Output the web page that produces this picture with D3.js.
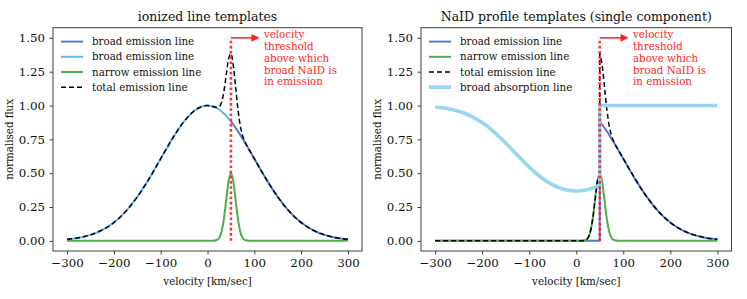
<!DOCTYPE html>
<html>
<head>
<meta charset="utf-8">
<script src="https://cdn.jsdelivr.net/npm/d3@7"></script>
<style>
  body { margin: 0; background: #fff; }
  svg { display: block; font-family: "DejaVu Serif", serif; }
</style>
</head>
<body>
<div id="chart"></div>
<script>
// velocity grid in km/s, shared by every template
const velocity = [-300, -275, -250, -225, -200, -175, -150, -125, -100, -75, -50, -25, 0,
  10, 20, 25, 30, 35, 40, 45, 50, 55, 60, 65, 70, 75, 80, 90,
  100, 125, 150, 175, 200, 225, 250, 275, 300];

const broadEmission = [0.011, 0.023, 0.044, 0.080, 0.135, 0.216, 0.325, 0.458, 0.607, 0.755, 0.883, 0.969, 1.000,
  0.995, 0.980, 0.969, 0.956, 0.941, 0.923, 0.904, 0.883, 0.860, 0.835, 0.810, 0.783, 0.755, 0.726, 0.667,
  0.607, 0.458, 0.325, 0.216, 0.135, 0.080, 0.044, 0.023, 0.011];

const narrowEmission = [0, 0, 0, 0, 0, 0, 0, 0, 0, 0, 0, 0, 0,
  0, 0.006, 0.022, 0.068, 0.162, 0.303, 0.441, 0.500, 0.441, 0.303, 0.162, 0.068, 0.022, 0.006, 0,
  0, 0, 0, 0, 0, 0, 0, 0, 0];

const totalEmission = [0.011, 0.023, 0.044, 0.080, 0.135, 0.216, 0.325, 0.458, 0.607, 0.755, 0.883, 0.969, 1.000,
  0.995, 0.986, 0.991, 1.024, 1.103, 1.226, 1.345, 1.383, 1.301, 1.138, 0.972, 0.851, 0.777, 0.732, 0.667,
  0.607, 0.458, 0.325, 0.216, 0.135, 0.080, 0.044, 0.023, 0.011];

// broad absorption, read up to the threshold (v <= 50); flat at 1 above it
const broadAbsorption = [0.989, 0.978, 0.957, 0.924, 0.874, 0.806, 0.723, 0.633, 0.545, 0.470, 0.414, 0.379, 0.368,
  0.370, 0.375, 0.379, 0.384, 0.390, 0.397, 0.405, 0.414];
const absorptionAbove = 1.0;

const velThreshold = 50;
const thresholdTop = 1.5;
const xTicks = [-300, -200, -100, 0, 100, 200, 300];
const yTicks = [0, 0.25, 0.5, 0.75, 1.0, 1.25, 1.5];
const noteLines = ["velocity", "threshold", "above which", "broad NaID is", "in emission"];
const panelTitles = ["ionized line templates", "NaID profile templates (single component)"];

const colors = {
  dark: "#5777d6",
  light: "#5dbbee",
  green: "#4caf4c",
  absorb: "#98d5f5",
  red: "#ff1f1f",
  frame: "#3c3c3c"
};

const W = 747, H = 299;
const svg = d3.select("#chart").append("svg").attr("width", W).attr("height", H);

// turn value arrays into [v, flux] points
function pts(vals) {
  return vals.map((f, i) => [velocity[i], f]);
}

// draws a smooth line but allows vertical jumps (repeated x)
function jumpPath(points, line) {
  let runs = [[points[0]]];
  for (let i = 1; i < points.length; i++) {
    if (points[i][0] === points[i - 1][0]) runs.push([points[i]]);
    else runs[runs.length - 1].push(points[i]);
  }
  return runs.map((r, i) => {
    let s = line(r).replace(/Z$/, "");
    return i ? "L" + s.slice(1) : s;
  }).join("");
}

class TemplatePanel {
  constructor(left, right, title, series, legend, yLabelX) {
    this.left = left;
    this.right = right;
    this.title = title;
    this.series = series;
    this.legend = legend;
    this.yLabelX = yLabelX;
    this.initVis();
  }

  initVis() {
    let vis = this;
    vis.top = 27.7;
    vis.bottom = 251;

    vis.x = d3.scaleLinear().domain([-330, 330]).range([vis.left, vis.right]);
    vis.y = d3.scaleLinear().domain([-0.075, 1.575]).range([vis.bottom, vis.top]);

    vis.g = svg.append("g");

    vis.line = d3.line()
      .x(d => vis.x(d[0]))
      .y(d => vis.y(d[1]))
      .curve(d3.curveMonotoneX);

    vis.g.append("defs").append("clipPath").attr("id", "clip" + vis.left)
      .append("rect")
      .attr("x", vis.left).attr("y", vis.top)
      .attr("width", vis.right - vis.left).attr("height", vis.bottom - vis.top);

    let plot = vis.g.append("g").attr("clip-path", `url(#clip${vis.left})`);

    vis.series.forEach(s => {
      plot.append("path")
        .attr("d", jumpPath(s.points, vis.line))
        .attr("fill", "none")
        .attr("stroke", s.color)
        .attr("stroke-width", s.width)
        .attr("stroke-dasharray", s.dash || null)
        .attr("stroke-linejoin", "round");
    });

    // threshold marker
    plot.append("line")
      .attr("x1", vis.x(velThreshold)).attr("x2", vis.x(velThreshold))
      .attr("y1", vis.y(0)).attr("y2", vis.y(thresholdTop))
      .attr("stroke", colors.red)
      .attr("stroke-width", 2.6)
      .attr("stroke-dasharray", "2.6,2.6")
      .attr("opacity", 0.9);

    let ay = vis.y(thresholdTop);
    let tip = vis.x(111);
    vis.g.append("line")
      .attr("x1", vis.x(velThreshold)).attr("x2", tip - 6)
      .attr("y1", ay).attr("y2", ay)
      .attr("stroke", colors.red).attr("stroke-width", 1.5);
    vis.g.append("path")
      .attr("d", `M${tip},${ay} L${tip - 8},${ay - 3.8} L${tip - 8},${ay + 3.8} Z`)
      .attr("fill", colors.red);

    let note = vis.g.append("text")
      .attr("fill", colors.red)
      .style("font-size", "10.3px");
    noteLines.forEach((t, i) => {
      note.append("tspan")
        .attr("x", vis.x(120.5))
        .attr("y", ay + 0.6 + i * 11.7)
        .text(t);
    });

    // axes
    vis.g.append("g")
      .attr("transform", `translate(0, ${vis.bottom})`)
      .call(d3.axisBottom(vis.x).tickValues(xTicks).tickSize(3.5).tickPadding(4.5)
        .tickFormat(d => d < 0 ? "\u2212" + Math.abs(d) : d))
      .call(g => g.select(".domain").remove())
      .call(g => g.selectAll("line").attr("stroke", colors.frame))
      .call(g => g.selectAll("text").attr("fill", "#111").style("font-size", "11.8px")
        .style("font-family", "DejaVu Serif, serif"));

    vis.g.append("g")
      .attr("transform", `translate(${vis.left}, 0)`)
      .call(d3.axisLeft(vis.y).tickValues(yTicks).tickSize(3.5).tickPadding(4.5)
        .tickFormat(d3.format(".2f")))
      .call(g => g.select(".domain").remove())
      .call(g => g.selectAll("line").attr("stroke", colors.frame))
      .call(g => g.selectAll("text").attr("fill", "#111").style("font-size", "11.8px")
        .style("font-family", "DejaVu Serif, serif"));

    vis.g.append("rect")
      .attr("x", vis.left).attr("y", vis.top)
      .attr("width", vis.right - vis.left).attr("height", vis.bottom - vis.top)
      .attr("fill", "none").attr("stroke", colors.frame).attr("stroke-width", 1);

    // labels
    vis.g.append("text")
      .attr("x", (vis.left + vis.right) / 2).attr("y", 21)
      .attr("text-anchor", "middle")
      .style("font-size", "12.5px").attr("fill", "#111")
      .text(vis.title);

    vis.g.append("text")
      .attr("x", (vis.left + vis.right) / 2).attr("y", 285)
      .attr("text-anchor", "middle")
      .style("font-size", "10.3px").attr("fill", "#111")
      .text("velocity [km/sec]");

    vis.g.append("text")
      .attr("transform", `translate(${vis.yLabelX}, ${(vis.top + vis.bottom) / 2}) rotate(-90)`)
      .attr("text-anchor", "middle")
      .style("font-size", "10.3px").attr("fill", "#111")
      .text("normalised flux");

    // legend
    let lg = vis.g.append("g");
    vis.legend.forEach((s, i) => {
      let cy = 41.6 + i * 15.2;
      lg.append("line")
        .attr("x1", vis.left + 8).attr("x2", vis.left + 30)
        .attr("y1", cy).attr("y2", cy)
        .attr("stroke", s.color).attr("stroke-width", s.width)
        .attr("stroke-dasharray", s.dash || null);
      lg.append("text")
        .attr("x", vis.left + 39).attr("y", cy + 3.6)
        .style("font-size", "10.3px").attr("fill", "#111")
        .text(s.label);
    });
  }
}

// left panel: ionized templates
let leftBroadDark = { label: "broad emission line", color: colors.dark, width: 2,
  points: pts(broadEmission).filter(d => d[0] >= velThreshold) };
let leftBroadLight = { label: "broad emission line", color: colors.light, width: 2,
  points: pts(broadEmission).filter(d => d[0] <= velThreshold) };
let narrow = { label: "narrow emission line", color: colors.green, width: 2,
  points: pts(narrowEmission) };
let leftTotal = { label: "total emission line", color: "#000", width: 1.5, dash: "5,3",
  points: pts(totalEmission) };

new TemplatePanel(53, 362, panelTitles[0],
  [leftBroadDark, leftBroadLight, narrow, leftTotal],
  [leftBroadDark, leftBroadLight, narrow, leftTotal], 12.5);

// right panel: NaID single component
let rightBroad = { label: "broad emission line", color: colors.dark, width: 2,
  points: velocity.filter(v => v <= velThreshold).map(v => [v, 0])
    .concat(pts(broadEmission).filter(d => d[0] >= velThreshold)) };
let rightTotal = { label: "total emission line", color: "#000", width: 1.5, dash: "5,3",
  points: pts(narrowEmission).filter(d => d[0] <= velThreshold)
    .concat(pts(totalEmission).filter(d => d[0] >= velThreshold)) };
let rightAbsorb = { label: "broad absorption line", color: colors.absorb, width: 3.6,
  points: broadAbsorption.map((f, i) => [velocity[i], f])
    .concat([[velThreshold, absorptionAbove], [300, absorptionAbove]]) };

new TemplatePanel(421, 731.5, panelTitles[1],
  [rightBroad, narrow, rightTotal, rightAbsorb],
  [rightBroad, narrow, rightTotal, rightAbsorb], 380.5);
</script>
</body>
</html>
